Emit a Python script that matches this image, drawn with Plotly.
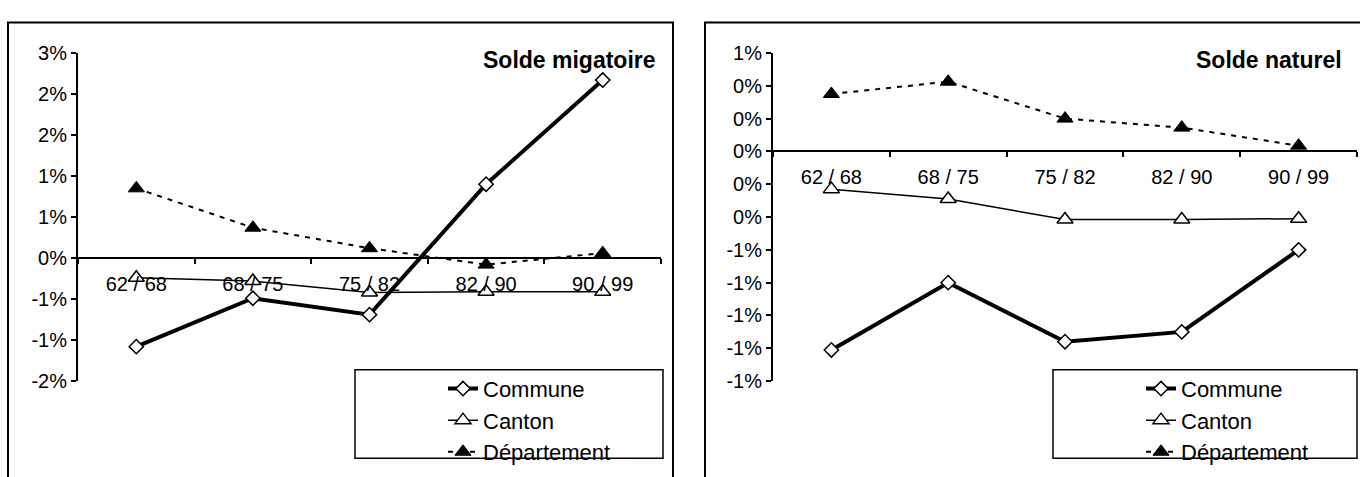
import plotly.graph_objects as go

# ---- data ----
periods = ["62 / 68", "68 / 75", "75 / 82", "82 / 90", "90 / 99"]
series_names = ["Commune", "Canton", "Département"]

mig_commune = [-1.08, -0.49, -0.69, 0.90, 2.17]
mig_canton = [-0.24, -0.28, -0.42, -0.41, -0.41]
mig_departement = [0.85, 0.37, 0.12, -0.08, 0.06]

nat_commune = [-1.21, -0.80, -1.16, -1.10, -0.60]
nat_canton = [-0.23, -0.29, -0.415, -0.415, -0.41]
nat_departement = [0.35, 0.425, 0.20, 0.145, 0.035]

mig_tickvals = [-1.5, -1.0, -0.5, 0.0, 0.5, 1.0, 1.5, 2.0, 2.5]
mig_ticktext = ["-2%", "-1%", "-1%", "0%", "1%", "1%", "2%", "2%", "3%"]
nat_tickvals = [-1.4, -1.2, -1.0, -0.8, -0.6, -0.4, -0.2, 0.0, 0.2, 0.4, 0.6]
nat_ticktext = ["-1%", "-1%", "-1%", "-1%", "-1%", "0%", "0%", "0%", "0%", "0%", "1%"]

titles = ["Solde migatoire", "Solde naturel"]

# ---- layout constants ----
W, H = 1360, 477
FONT = "Liberation Sans, Arial, sans-serif"


def px_x(v):
    return v / W


def px_y(v):
    return 1 - v / H


ydom = [px_y(388), px_y(44)]
panels = [
    dict(xdom=[px_x(78), px_x(661)], rng=[-1.5, 2.5], tv=mig_tickvals, tt=mig_ticktext,
         data=[mig_commune, mig_canton, mig_departement], title=titles[0],
         title_x=px_x(658), box=[8, 673], leg_box=[355, 663], legend="legend", leg_x=443),
    dict(xdom=[px_x(773), px_x(1357)], rng=[-1.4, 0.6], tv=nat_tickvals, tt=nat_ticktext,
         data=[nat_commune, nat_canton, nat_departement], title=titles[1],
         title_x=px_x(1344), box=[705, 1364], leg_box=[1053, 1357], legend="legend2", leg_x=1141),
]

styles = [
    dict(line=dict(color="black", width=4),
         marker=dict(symbol="diamond", size=11, color="white", line=dict(color="black", width=1.5))),
    dict(line=dict(color="black", width=1.5),
         marker=dict(symbol="triangle-up", size=14, color="white", line=dict(color="black", width=1.5))),
    dict(line=dict(color="black", width=2, dash="5px,6px"),
         marker=dict(symbol="triangle-up", size=14, color="black", line=dict(color="black", width=1))),
]

fig = go.Figure()
shapes = []
annotations = []
legends = {}

for i, p in enumerate(panels):
    xa = "x" if i == 0 else "x2"
    ya = "y" if i == 0 else "y2"
    for name, vals, st in zip(series_names, p["data"], styles):
        fig.add_trace(go.Scatter(
            x=periods, y=vals, name=name, mode="lines+markers",
            xaxis=xa, yaxis=ya, legend=p["legend"], line=st["line"], marker=st["marker"],
            cliponaxis=False, hoverinfo="skip",
        ))
    r0, r1 = p["rng"]
    zero_pos = ydom[0] + (0 - r0) / (r1 - r0) * (ydom[1] - ydom[0])
    xkey = "xaxis" if i == 0 else "xaxis2"
    ykey = "yaxis" if i == 0 else "yaxis2"
    fig.update_layout(**{
        xkey: dict(domain=p["xdom"], anchor="free", position=zero_pos, type="category",
                   categoryorder="array", categoryarray=periods, range=[-0.5, 4.5],
                   tickson="boundaries", ticks="outside", ticklen=5, tickwidth=1.5, tickcolor="black",
                   showline=True, linecolor="black", linewidth=2, showgrid=False, zeroline=False,
                   tickfont=dict(family=FONT, size=20, color="black"), ticklabelstandoff=8,
                   fixedrange=True),
        ykey: dict(domain=ydom, anchor=xa, range=p["rng"], tickmode="array", tickvals=p["tv"],
                   ticktext=p["tt"], ticks="outside", ticklen=5, tickwidth=1.5, tickcolor="black",
                   showline=True, linecolor="black", linewidth=2, showgrid=False, zeroline=False,
                   tickfont=dict(family=FONT, size=20, color="black"), fixedrange=True),
    })
    # panel border
    shapes.append(dict(type="rect", xref="paper", yref="paper",
                       x0=px_x(p["box"][0]), x1=px_x(p["box"][1]), y0=px_y(490), y1=px_y(12),
                       line=dict(color="black", width=2), fillcolor="rgba(0,0,0,0)", layer="below"))
    # legend frame
    shapes.append(dict(type="rect", xref="paper", yref="paper",
                       x0=px_x(p["leg_box"][0]), x1=px_x(p["leg_box"][1]), y0=px_y(469), y1=px_y(376),
                       line=dict(color="black", width=1.5), fillcolor="white", layer="above"))
    annotations.append(dict(text="<b>" + p["title"] + "</b>", xref="paper", yref="paper",
                            x=p["title_x"], y=px_y(51), xanchor="right", yanchor="middle",
                            showarrow=False, font=dict(family=FONT, size=23, color="black")))
    legends[p["legend"]] = dict(x=px_x(p["leg_x"]), y=px_y(374), bgcolor="rgba(0,0,0,0)", borderwidth=0,
                                font=dict(family=FONT, size=22, color="black"),
                                xanchor="left", yanchor="top", tracegroupgap=0, itemwidth=30)

fig.update_layout(
    width=W, height=H, margin=dict(l=0, r=0, t=0, b=0),
    paper_bgcolor="white", plot_bgcolor="white",
    showlegend=True,
    shapes=shapes, annotations=annotations,
    font=dict(family=FONT),
    **legends,
)

fig.write_html("out.html")
